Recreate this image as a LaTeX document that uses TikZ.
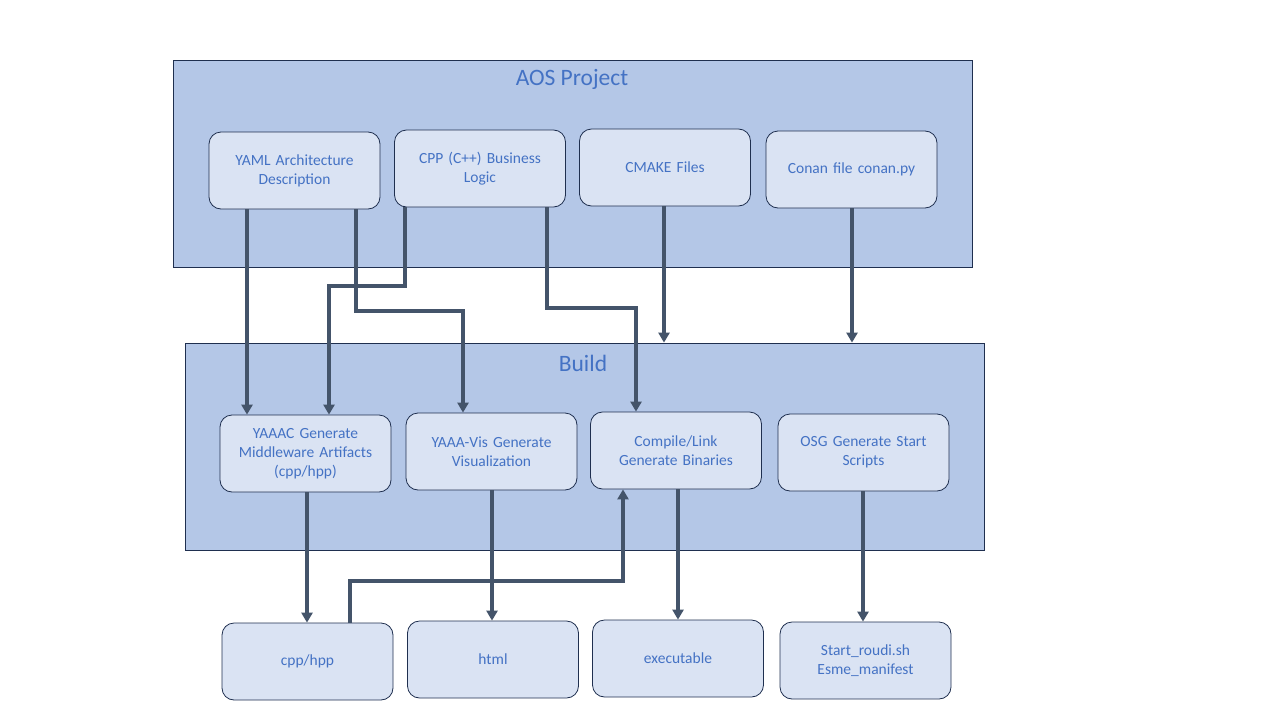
\documentclass[tikz,border=0pt]{standalone}
\usepackage{fontspec}
\setmainfont{Carlito}
\usepackage{tikz}
\usetikzlibrary{arrows.meta}
\definecolor{areafill}{HTML}{B4C7E7}
\definecolor{boxfill}{HTML}{DAE3F3}
\definecolor{boxline}{HTML}{1F2F4F}
\definecolor{labeltext}{HTML}{4472C4}
\definecolor{flowline}{HTML}{44546A}

\begin{document}
\begin{tikzpicture}[x=1pt, y=-1pt,
        area/.style={draw=boxline, fill=areafill, line width=0.8pt, minimum width=799pt, minimum height=207pt, inner sep=0pt},
        areatitle/.style={text=labeltext, font=\fontsize{23.5}{28}\selectfont},
        box/.style={draw=boxline, fill=boxfill, rounded corners=12pt, line width=0.8pt, minimum width=171pt, minimum height=77pt, inner sep=2pt, text width=164pt, align=center, text=labeltext, font=\fontsize{15.5}{19}\selectfont},
        flow/.style={draw=flowline, line width=3.5pt, -{Triangle[width=11pt,length=10pt]}}]
        \useasboundingbox (0,0) rectangle (1280,720);

        % containers
        \node[area] (aos) at (572.5,163.5) {};
        \node[areatitle] (aostitle) at (572,79) {AOS Project};
        \node[area] (build) at (584.5,446.5) {};
        \node[areatitle] (buildtitle) at (583,363) {Build};

        % inputs
        \node[box] (yaml) at (294.5,170.5) {YAML Architecture\\Description};
        \node[box] (cpp) at (480,168.5) {CPP (C++) Business\\Logic};
        \node[box] (cmake) at (665,167.5) {CMAKE Files};
        \node[box] (conan) at (851.5,169.5) {Conan file conan.py};

        % build steps
        \node[box] (yaaac) at (305.5,453.5) {YAAAC Generate\\Middleware Artifacts\\(cpp/hpp)};
        \node[box] (vis) at (491.5,451.5) {YAAA-Vis Generate\\Visualization};
        \node[box] (compile) at (676,450.5) {Compile/Link\\Generate Binaries};
        \node[box] (osg) at (863.5,452.5) {OSG Generate Start\\Scripts};

        % outputs
        \node[box] (hpp) at (307.5,661.5) {cpp/hpp};
        \node[box] (html) at (493,659.5) {html};
        \node[box] (exe) at (678,658.5) {executable};
        \node[box] (start) at (865.5,660.5) {Start\_roudi.sh\\Esme\_manifest};

        % connectors
        \draw[flow] (yaml.south -| 247,0) -- (yaaac.north -| 247,0);
        \draw[flow] (yaml.south -| 356,0) |- (463,311) -- (vis.north -| 463,0);
        \draw[flow] (cpp.south -| 405,0) |- (329,286) -- (yaaac.north -| 329,0);
        \draw[flow] (cpp.south -| 547,0) |- (636,308) -- (compile.north -| 636,0);
        \draw[flow] (cmake.south -| 664,0) -- (build.north -| 664,0);
        \draw[flow] (conan.south -| 852,0) -- (build.north -| 852,0);

        \draw[flow] (yaaac.south -| 307,0) -- (hpp.north -| 307,0);
        \draw[flow] (vis.south -| 492,0) -- (html.north -| 492,0);
        \draw[flow] (compile.south -| 678,0) -- (exe.north -| 678,0);
        \draw[flow] (osg.south -| 863,0) -- (start.north -| 863,0);
        \draw[flow] (hpp.north -| 350,0) |- (623,581) -- (compile.south -| 623,0);
\end{tikzpicture}
\end{document}
